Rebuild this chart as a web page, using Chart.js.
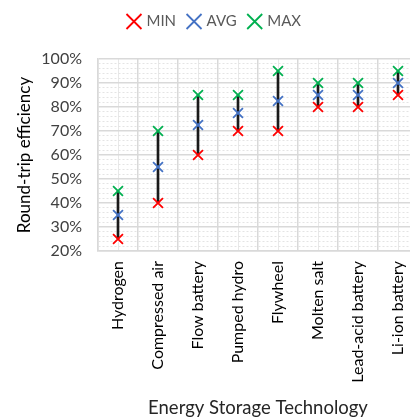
<!DOCTYPE html>
<html>
<head>
<meta charset="utf-8">
<script src="https://cdn.jsdelivr.net/npm/chart.js@4.4.1/dist/chart.umd.min.js"></script>
<style>
  html, body { margin: 0; padding: 0; background: #fff; overflow: hidden; }
  #wrap { width: 430px; height: 420px; }
</style>
</head>
<body>
<div id="wrap"><canvas id="chart" width="430" height="420"></canvas></div>
<script>
const technologies = ["Hydrogen", "Compressed air", "Flow battery", "Pumped hydro",
  "Flywheel", "Molten salt", "Lead-acid battery", "Li-ion battery"];
const minValues = [25, 40, 60, 70, 70, 80, 80, 85];
const avgValues = [35, 55, 72.5, 77.5, 82.5, 85, 85, 90];
const maxValues = [45, 70, 85, 85, 95, 90, 90, 95];
const yMin = 20;
const yMax = 100;
const yStep = 2;
const yLabelStep = 10;

const FONT = "Lato, 'Open Sans', sans-serif";
const MAJOR_GRID = '#d9d9d9';
const MINOR_GRID = '#e4e4e4';

function marker(label, data, color) {
  return {
    type: 'line',
    label: label,
    data: data,
    showLine: false,
    borderColor: color,
    backgroundColor: color,
    borderWidth: 2,
    pointStyle: 'crossRot',
    pointRadius: 7,
    pointBorderWidth: 1.8,
    pointBorderColor: color,
    order: 0
  };
}

const isMajor = (c) => c.tick && c.tick.value % yLabelStep === 0;

// extra room under the legend, like the gap in the original
const legendGap = {
  id: 'legendGap',
  beforeInit(chart) {
    const fit = chart.legend.fit;
    chart.legend.fit = function () {
      fit.bind(chart.legend)();
      this.height += 20;
    };
  }
};

const ctx = document.getElementById('chart');
new Chart(ctx, {
  type: 'bar',
  data: {
    labels: technologies,
    datasets: [
      marker('MIN', minValues, '#ff0000'),
      marker('AVG', avgValues, '#4472c4'),
      marker('MAX', maxValues, '#00b050'),
      {
        type: 'bar',
        label: 'range',
        data: minValues.map((v, i) => [v, maxValues[i]]),
        backgroundColor: '#1a1a1a',
        barThickness: 2,
        order: 1
      }
    ]
  },
  plugins: [legendGap],
  options: {
    responsive: false,
    animation: false,
    layout: { padding: { top: 1, right: 12, left: 12, bottom: 1 } },
    plugins: {
      tooltip: { enabled: false },
      legend: {
        position: 'top',
        labels: {
          filter: (item) => item.text !== 'range',
          usePointStyle: true,
          boxWidth: 10,
          padding: 13,
          color: '#595959',
          font: { family: FONT, size: 15 }
        }
      }
    },
    scales: {
      x: {
        type: 'category',
        offset: true,
        afterFit: (scale) => { scale.height = 168; },
        grid: { offset: true, color: MAJOR_GRID, drawTicks: false, lineWidth: 1.5 },
        border: { color: MAJOR_GRID, width: 1.5 },
        ticks: {
          color: '#000',
          font: { family: FONT, size: 16 },
          minRotation: 90,
          maxRotation: 90,
          padding: 10,
          autoSkip: false
        },
        title: {
          display: true,
          text: 'Energy Storage Technology',
          color: '#262626',
          font: { family: FONT, size: 18.5 },
          padding: { top: 10, bottom: 0 }
        }
      },
      x2: {
        type: 'category',
        position: 'top',
        offset: true,
        grid: { offset: false, color: '#e8e8e8', drawTicks: false },
        border: { display: false },
        ticks: { display: false }
      },
      y: {
        min: yMin,
        max: yMax,
        afterFit: (scale) => { scale.width = 86; },
        grid: {
          drawTicks: false,
          color: (c) => isMajor(c) ? MAJOR_GRID : MINOR_GRID,
          lineWidth: (c) => isMajor(c) ? 1.5 : 1
        },
        border: {
          color: MAJOR_GRID,
          width: 1.5,
          dash: (c) => isMajor(c) ? [] : [2, 2]
        },
        ticks: {
          stepSize: yStep,
          autoSkip: false,
          padding: 16,
          color: '#404040',
          font: { family: FONT, size: 16 },
          callback: (v) => v % yLabelStep === 0 ? v + '%' : ''
        },
        title: {
          display: true,
          text: 'Round-trip efficiency',
          color: '#000',
          font: { family: FONT, size: 17 },
          padding: { top: 2, bottom: 4 }
        }
      }
    }
  }
});
</script>
</body>
</html>
